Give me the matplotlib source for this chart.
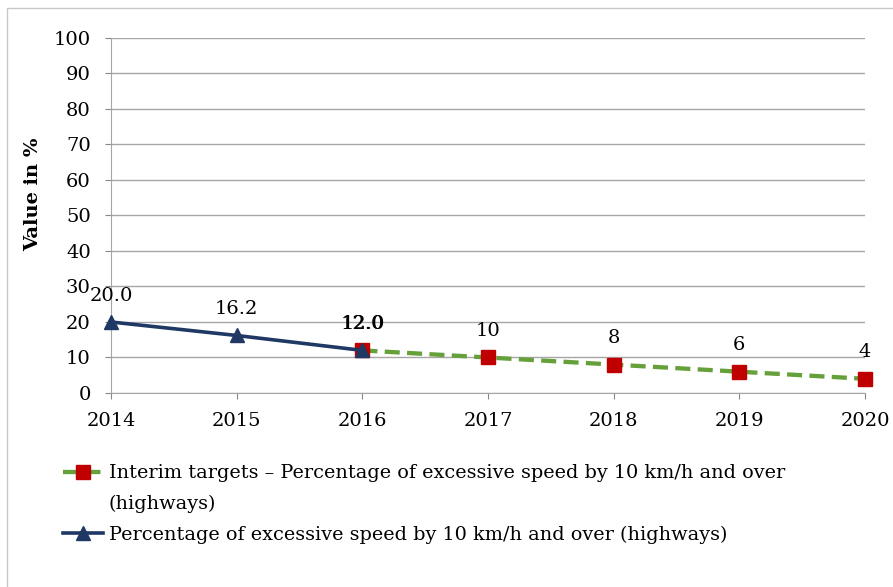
import matplotlib
matplotlib.use('Agg')
import matplotlib.pyplot as plt
from matplotlib.lines import Line2D
from matplotlib.patches import Rectangle

# Dati
years = [2014, 2015, 2016, 2017, 2018, 2019, 2020]
target_years = [2016, 2017, 2018, 2019, 2020]
target_values = [12, 10, 8, 6, 4]
target_labels = ['12', '10', '8', '6', '4']
measured_years = [2014, 2015, 2016]
measured_values = [20.0, 16.2, 12.0]
measured_labels = ['20.0', '16.2', '12.0']

label_target = 'Interim targets \u2013 Percentage of excessive speed by 10 km/h and over'
label_target2 = '(highways)'
label_measured = 'Percentage of excessive speed by 10 km/h and over (highways)'

serif = ['DejaVu Serif']

fig = plt.figure(figsize=(8.93, 5.87), dpi=100)
ax = fig.add_axes([0.1243, 0.3305, 0.8444, 0.6048])

# Grafico
l1, = ax.plot(target_years, target_values, '--', color='#66a03a', lw=3.1,
              dashes=(3.5, 1.7), marker='s', markersize=9.5,
              markerfacecolor='#c00000', markeredgecolor='#c00000', zorder=3)
l2, = ax.plot(measured_years, measured_values, '-', color='#1f3864', lw=2.6,
              marker='^', markersize=10.5, markerfacecolor='#1f3864',
              markeredgecolor='#1f3864', zorder=4)

for x, y, t in zip(target_years[1:], target_values[1:], target_labels[1:]):
    ax.annotate(t, (x, y), xytext=(0, 19), textcoords='offset points',
                ha='center', va='center', fontsize=14, family=serif)
for x, y, t in zip(measured_years, measured_values, measured_labels):
    ax.annotate(t, (x, y), xytext=(0, 19), textcoords='offset points',
                ha='center', va='center', fontsize=14, family=serif)
# etichetta 12.0 sovrapposta (appare piu' scura)
ax.annotate(measured_labels[2], (measured_years[2], measured_values[2]),
            xytext=(0.4, 19), textcoords='offset points',
            ha='center', va='center', fontsize=14, family=serif)

ax.set_xlim(2014, 2020)
ax.set_ylim(0, 100)
ax.set_xticks(years)
ax.set_yticks(range(0, 101, 10))
ax.tick_params(axis='both', labelsize=14, colors='#888888', labelcolor='black', length=4.5)
for lab in ax.get_xticklabels() + ax.get_yticklabels():
    lab.set_family(serif)
ax.tick_params(axis='y', pad=10)
ax.tick_params(axis='x', pad=9)

ax.set_ylabel('Value in %', fontsize=14, fontweight='bold', family=serif)
ax.yaxis.set_label_coords(-0.0915, 0.56)
ax.grid(True, axis='y', color='#a6a6a6', lw=1)
ax.set_axisbelow(True)
for s in ['top', 'right']:
    ax.spines[s].set_visible(False)
for s in ['left', 'bottom']:
    ax.spines[s].set_color('#a6a6a6')
for l in (l1, l2):
    l.set_clip_on(False)

blank = Line2D([], [], linestyle='none')
leg = fig.legend([l1, blank, l2], [label_target, label_target2, label_measured],
                 loc='upper left', bbox_to_anchor=(0.0705, 0.209), frameon=False,
                 handlelength=2.1, handletextpad=0.27, labelspacing=0.64,
                 borderaxespad=0, borderpad=0,
                 prop={'family': serif, 'size': 13.9})

fig.patches.append(Rectangle((0.008, -0.01), 1.05, 0.996, transform=fig.transFigure,
                             fill=False, edgecolor='#c8c8c8', lw=1))

fig.savefig('out.png', dpi=100)
